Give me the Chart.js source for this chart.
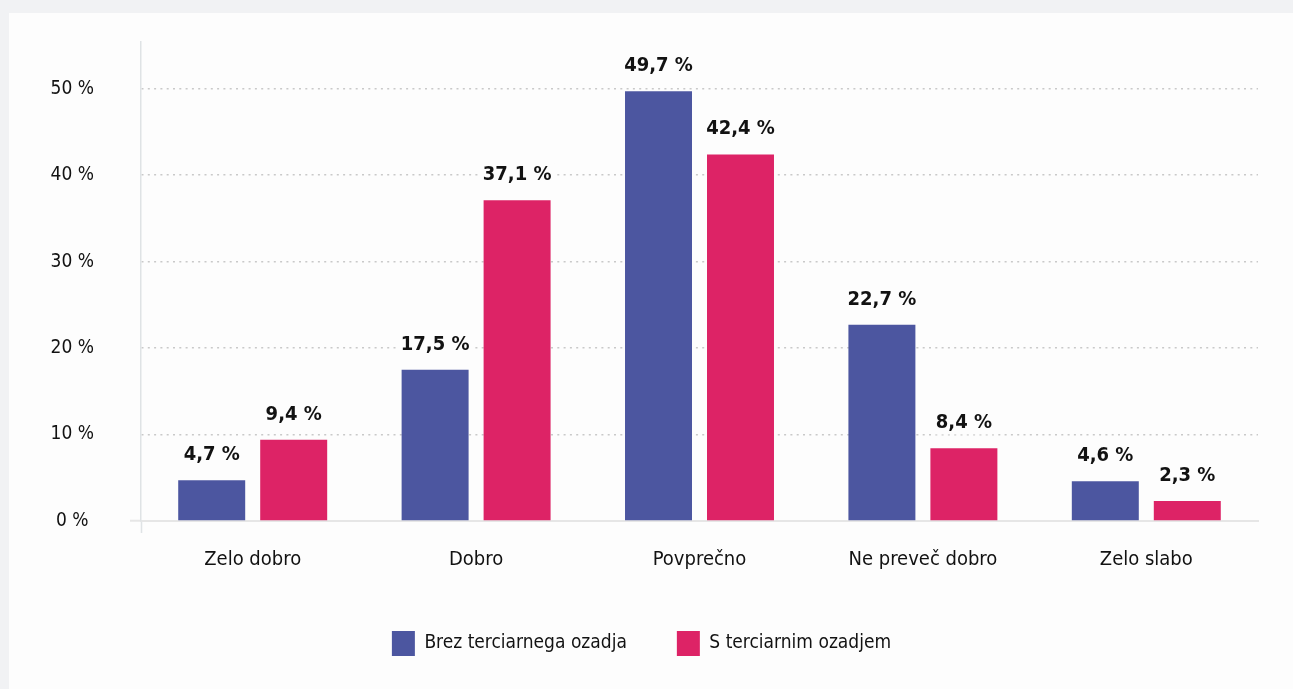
<!DOCTYPE html>
<html>
<head>
<meta charset="utf-8">
<script src="https://cdn.jsdelivr.net/npm/chart.js@4/dist/chart.umd.min.js"></script>
<style>
  html, body { margin: 0; padding: 0; background: #f1f2f4; overflow: hidden; }
  #card { position: absolute; left: 9px; top: 13px; width: 1284px; height: 676px; background: #fdfdfd; }
</style>
</head>
<body>
<div id="card"><canvas id="chart"></canvas></div>
<script>
"use strict";

var categories = ["Zelo dobro", "Dobro", "Povprečno", "Ne preveč dobro", "Zelo slabo"];
var brezTerciarnega = [4.7, 17.5, 49.7, 22.7, 4.6];
var sTerciarnim = [9.4, 37.1, 42.4, 8.4, 2.3];
var seriesNames = ["Brez terciarnega ozadja", "S terciarnim ozadjem"];
var yTicks = [0, 10, 20, 30, 40, 50];

var FONT = '"Liberation Sans Narrow", "DejaVu Sans Condensed", "Roboto", sans-serif';
var CARD = '#fdfdfd';
var TEXT = '#121212';

Chart.defaults.font.family = FONT;
Chart.defaults.font.size = 20;
Chart.defaults.color = TEXT;

function pct(v) {
	return v.toFixed(1).replace('.', ',') + ' %';
}

// value labels above the bars, with a card-coloured patch so the dotted grid stops behind them
var valueLabels = {
	id: 'valueLabels',
	afterDatasetsDraw: function(chart) {
		var ctx = chart.ctx;
		ctx.save();
		ctx.font = 'bold 20px ' + FONT;
		ctx.textAlign = 'center';
		ctx.textBaseline = 'alphabetic';
		chart.data.datasets.forEach(function(ds, i) {
			chart.getDatasetMeta(i).data.forEach(function(bar, j) {
				var text = pct(ds.data[j]);
				var w = ctx.measureText(text).width;
				var y = bar.y - 20;
				ctx.fillStyle = CARD;
				ctx.fillRect(bar.x - w / 2 - 3, y - 17, w + 6, 23);
				ctx.fillStyle = TEXT;
				ctx.fillText(text, bar.x, y);
			});
		});
		ctx.restore();
	}
};

var ctx = document.getElementById("chart");
var chart = new Chart(ctx, {
	type: 'bar',
	data: {
		labels: categories,
		datasets: [{
			label: seriesNames[0],
			data: brezTerciarnega,
			backgroundColor: '#4c56a0',
			categoryPercentage: 0.734,
			barPercentage: 0.817
		}, {
			label: seriesNames[1],
			data: sTerciarnim,
			backgroundColor: '#dd2366',
			categoryPercentage: 0.734,
			barPercentage: 0.817
		}]
	},
	options: {
		responsive: true,
		maintainAspectRatio: false,
		animation: false,
		layout: { padding: { left: 16, right: 35, top: 29, bottom: 23 } },
		plugins: {
			legend: {
				position: 'bottom',
				labels: { boxWidth: 23, boxHeight: 25, padding: 50, color: TEXT, font: { size: 19 } }
			},
			tooltip: { enabled: false }
		},
		scales: {
			x: {
				grid: {
					drawOnChartArea: false,
					tickLength: 12,
					tickWidth: 1.5,
					tickColor: function(c) { return c.index === 0 ? '#dfe3e5' : 'transparent'; }
				},
				border: { display: true, color: '#e6e6e6', width: 2 },
				ticks: { padding: 15, color: TEXT, font: { size: 20 } },
				afterFit: function(s) { s.height = 60; }
			},
			y: {
				min: 0,
				max: 55.4,
				afterBuildTicks: function(s) {
					s.ticks = yTicks.map(function(v) { return { value: v }; });
				},
				grid: {
					lineWidth: 1.5,
					color: function(c) { return c.tick && c.tick.value === 0 ? 'transparent' : '#c9c9c9'; },
					tickLength: 11,
					tickWidth: 2,
					tickColor: function(c) { return c.tick && c.tick.value === 0 ? '#e6e6e6' : 'transparent'; }
				},
				border: { display: true, color: '#dfe3e5', width: 1.5, dash: function(c) { return c.tick && c.tick.value === 0 ? [] : [2, 4.3]; } },
				ticks: {
					padding: 36,
					crossAlign: 'center',
					color: TEXT,
					font: { size: 19 },
					callback: function(v) { return v + ' %'; }
				},
				afterFit: function(s) {
					s.width = 116;
					// tick padding would otherwise push the plot top down
					s.paddingTop = 0;
					s.paddingBottom = 0;
				}
			}
		}
	},
	plugins: [valueLabels]
});
</script>
</body>
</html>
